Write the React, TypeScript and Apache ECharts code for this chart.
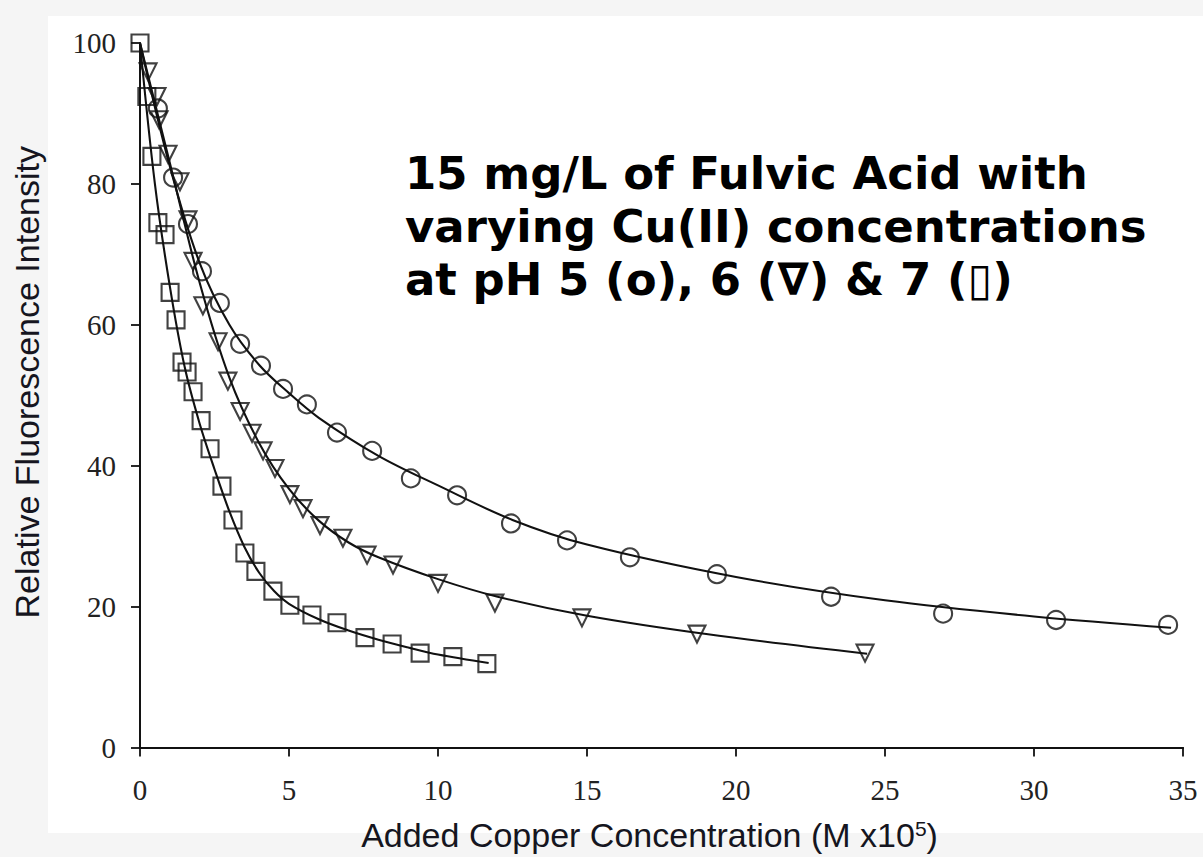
import React, { useEffect, useRef } from "react";
import * as echarts from "echarts";

const xTicks = [0, 5, 10, 15, 20, 25, 30, 35];
const yTicks = [0, 20, 40, 60, 80, 100];

// measured points
const ph5: [number, number][] = [
  [0.6, 90.7], [1.11, 80.9], [1.61, 74.3], [2.08, 67.6], [2.68, 63.1],
  [3.36, 57.3], [4.06, 54.2], [4.8, 50.9], [5.6, 48.7], [6.61, 44.7], [7.79, 42.1],
  [9.09, 38.2], [10.64, 35.8], [12.45, 31.8], [14.33, 29.4], [16.44, 27.0],
  [19.36, 24.6], [23.19, 21.4], [26.95, 19.0], [30.74, 18.1], [34.5, 17.4],
];

const ph6: [number, number][] = [
  [0.27, 95.9], [0.57, 92.4], [0.64, 89.1], [0.94, 84.2], [1.34, 80.3],
  [1.61, 74.9], [1.78, 69.0], [2.11, 62.7], [2.62, 57.6], [2.95, 52.0], [3.36, 47.7],
  [3.76, 44.6], [4.13, 42.1], [4.53, 39.6], [5.03, 35.9], [5.47, 33.9], [6.04, 31.5],
  [6.81, 29.7], [7.62, 27.3], [8.49, 25.9], [10.0, 23.3], [11.91, 20.5],
  [14.83, 18.4], [18.69, 16.1], [24.33, 13.4],
];

const ph7: [number, number][] = [
  [0, 100], [0.23, 92.4], [0.4, 83.9], [0.6, 74.5], [0.84, 72.8], [1.01, 64.6],
  [1.21, 60.7], [1.41, 54.7], [1.58, 53.3], [1.78, 50.5], [2.05, 46.4], [2.35, 42.4],
  [2.75, 37.1], [3.12, 32.3], [3.52, 27.6], [3.89, 25.0], [4.46, 22.2], [5.03, 20.2],
  [5.77, 18.8], [6.61, 17.7], [7.55, 15.6], [8.46, 14.7], [9.4, 13.4], [10.5, 12.9],
  [11.64, 11.9],
];

// fitted curves as drawn in the figure
const fit5: [number, number][] = [
  [0, 100], [1, 82.5], [2, 68.8], [3, 60], [4, 54.3], [5, 50.3], [6, 46.8],
  [8, 41.4], [10, 37.2], [12.5, 32.3], [15, 28.8], [20, 24.2], [25, 20.9],
  [30, 18.6], [34.6, 17],
];
const fit6: [number, number][] = [
  [0, 100], [1, 83], [2, 66], [3, 52.5], [4, 43.2], [5, 36.7], [6, 32.2],
  [7, 29.1], [8, 27], [10, 23.9], [12, 21.4], [15, 18.7], [19, 16.1], [24.4, 13.3],
];
const fit7: [number, number][] = [
  [0, 100], [0.5, 80], [1, 65.5], [1.5, 54], [2, 46], [2.5, 39.5], [3, 33.5],
  [3.5, 28.5], [4, 24.8], [4.5, 22.2], [5, 20.4], [6, 18.2], [7, 16.6],
  [8, 15.3], [9, 14.2], [10, 13.2], [11.7, 12],
];

const titleLines = [
  "15 mg/L of Fulvic Acid with",
  "varying Cu(II) concentrations",
  "at pH 5 (o), 6 (\u2207) & 7 (\u25AF)",
];

const xName = "Added Copper Concentration (M x10{sup|5})";
const yName = "Relative Fluorescence Intensity";

const INK = "#111111";

function markers(name: string, data: [number, number][], symbol: string, size: number, rotate: number) {
  return {
    name,
    type: "scatter",
    data,
    symbol,
    symbolSize: size,
    symbolRotate: rotate,
    itemStyle: { color: "rgba(0,0,0,0)", borderColor: INK, borderWidth: 2.1 },
    z: 4,
  };
}

function curve(name: string, data: [number, number][]) {
  return {
    name,
    type: "line",
    data,
    smooth: 0.35,
    symbol: "none",
    lineStyle: { color: INK, width: 2.1 },
    z: 3,
  };
}

export default function App() {
  const ref = useRef<HTMLDivElement>(null);
  useEffect(() => {
    document.body.style.margin = "0";
    if (!ref.current) return;
    const chart = echarts.init(ref.current, undefined, { renderer: "svg" });
    chart.setOption({
      animation: false,
      backgroundColor: "#f5f5f5",
      graphic: [
        {
          type: "rect",
          shape: { x: 48, y: 16, width: 1155, height: 817 },
          style: { fill: "#ffffff" },
          z: -10,
          silent: true,
        },
        {
          type: "text",
          left: 405,
          top: 147,
          style: {
            text: titleLines.join("\n"),
            font: "bold 45px 'DejaVu Sans'",
            lineHeight: 53,
            fill: "#000000",
          },
          z: 10,
        },
      ],
      grid: { left: 140, right: 20, top: 43, bottom: 107 },
      xAxis: [
        {
          type: "value",
          min: 0,
          max: 35,
          interval: 5,
          axisLine: { show: true, lineStyle: { color: INK, width: 1.8 } },
          axisTick: { show: true, inside: false, length: 9, lineStyle: { color: INK, width: 1.8 } },
          axisLabel: {
            margin: 28,
            fontFamily: "'Liberation Serif', serif",
            fontSize: 29,
            color: "#222222",
            formatter: (v: number) => (xTicks.includes(v) ? String(v) : ""),
          },
          splitLine: { show: false },
          name: xName,
          nameLocation: "middle",
          nameGap: 70,
          nameTextStyle: {
            fontFamily: "'Liberation Sans', Arial, sans-serif",
            fontSize: 34,
            color: "#151520",
            padding: [0, 24, 0, 0],
            rich: { sup: { fontSize: 21, verticalAlign: "top", padding: [0, 0, 14, 0], fontFamily: "'Liberation Sans', Arial, sans-serif", color: "#151520" } },
          },
        },
        {
          type: "value",
          position: "top",
          min: 0,
          max: 35,
          interval: 5,
          axisLine: { show: true, lineStyle: { color: INK, width: 1.8 } },
          axisTick: { show: false },
          axisLabel: { show: false },
          splitLine: { show: false },
        },
      ],
      yAxis: [
        {
          type: "value",
          min: 0,
          max: 100,
          interval: 20,
          axisLine: { show: true, lineStyle: { color: INK, width: 1.8 } },
          axisTick: { show: true, inside: false, length: 9, lineStyle: { color: INK, width: 1.8 } },
          axisLabel: {
            margin: 24,
            fontFamily: "'Liberation Serif', serif",
            fontSize: 29,
            color: "#222222",
            formatter: (v: number) => (yTicks.includes(v) ? String(v) : ""),
          },
          splitLine: { show: false },
          name: yName,
          nameLocation: "middle",
          nameGap: 96,
          nameTextStyle: {
            fontFamily: "'Liberation Sans', Arial, sans-serif",
            fontSize: 34,
            color: "#151520",
            padding: [0, 0, 0, 26],
          },
        },
        {
          type: "value",
          position: "right",
          min: 0,
          max: 100,
          interval: 20,
          axisLine: { show: true, lineStyle: { color: INK, width: 1.8 } },
          axisTick: { show: false },
          axisLabel: { show: false },
          splitLine: { show: false },
        },
      ],
      series: [
        curve("pH 5 fit", fit5),
        curve("pH 6 fit", fit6),
        curve("pH 7 fit", fit7),
        markers("pH 5", ph5, "circle", 18, 0),
        markers("pH 6", ph6, "triangle", 17, 180),
        markers("pH 7", ph7, "rect", 17, 0),
      ],
    });
    return () => chart.dispose();
  }, []);
  return <div ref={ref} style={{ width: 1203, height: 857 }} />;
}
